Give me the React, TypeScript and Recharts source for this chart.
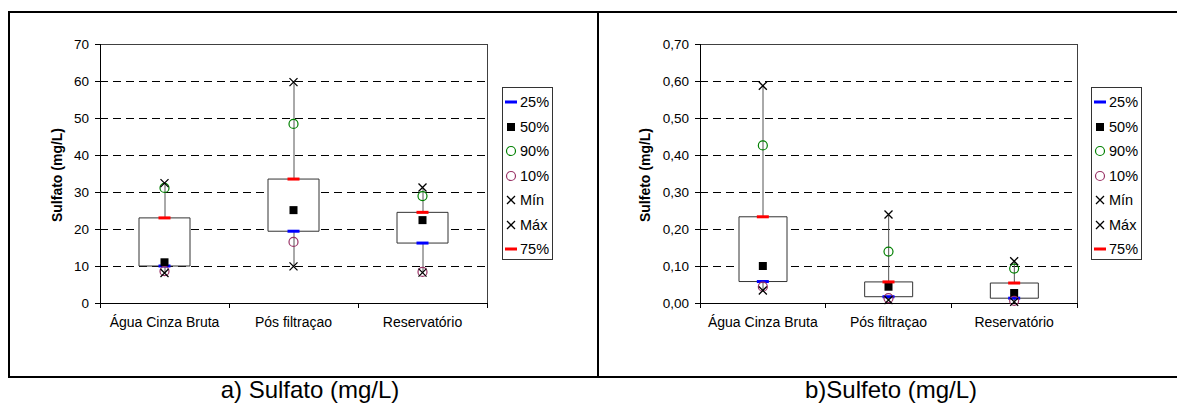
import React from "react";
import { Bar, CartesianGrid, ComposedChart, Line, ReferenceArea, XAxis, YAxis } from "recharts";

const categories = ["Água Cinza Bruta", "Pós filtraçao", "Reservatório"];

// a) Sulfato (mg/L)
const sulfatoP25 = [10, 19.4, 16.2];
const sulfatoP50 = [11, 25.1, 22.4];
const sulfatoP75 = [23, 33.5, 24.5];
const sulfatoP90 = [31.1, 48.4, 28.9];
const sulfatoP10 = [8.6, 16.5, 8.4];
const sulfatoMin = [8.1, 9.9, 8.2];
const sulfatoMax = [32.4, 59.7, 31.2];
const sulfatoTicks = [0, 10, 20, 30, 40, 50, 60, 70];

// b) Sulfeto (mg/L)
const sulfetoP25 = [0.058, 0.017, 0.013];
const sulfetoP50 = [0.1, 0.044, 0.027];
const sulfetoP75 = [0.233, 0.057, 0.054];
const sulfetoP90 = [0.426, 0.139, 0.093];
const sulfetoP10 = [0.044, 0.013, 0.006];
const sulfetoMin = [0.034, 0.008, 0.003];
const sulfetoMax = [0.587, 0.239, 0.113];
const sulfetoTicks = [0, 0.1, 0.2, 0.3, 0.4, 0.5, 0.6, 0.7];

const legendLabels = ["25%", "50%", "90%", "10%", "Mín", "Máx", "75%"];

const FONT = '"Liberation Sans", Arial, sans-serif';

type Stats = {
  p25: number[];
  p50: number[];
  p75: number[];
  p90: number[];
  p10: number[];
  min: number[];
  max: number[];
};

function buildRows(s: Stats) {
  return categories.map((name, i) => ({
    name,
    pos: i + 0.5, // centre of the category band on the boundary-tick axis
    whisk: [s.min[i], s.max[i]],
    box: [s.p25[i], s.p75[i]],
    p25: s.p25[i],
    p50: s.p50[i],
    p75: s.p75[i],
    p90: s.p90[i],
    p10: s.p10[i],
    min: s.min[i],
    max: s.max[i],
  }));
}

// marker shapes, drawn around (0,0)
function Symbol({ kind }: { kind: string }) {
  switch (kind) {
    case "25%":
      return <rect x={-6} y={-1.5} width={12} height={3} fill="#0000ff" />;
    case "75%":
      return <rect x={-6} y={-1.5} width={12} height={3} fill="#ff0000" />;
    case "50%":
      return <rect x={-4} y={-4} width={8} height={8} fill="#000" />;
    case "90%":
      return <circle r={4.5} fill="none" stroke="#008000" strokeWidth={1.2} />;
    case "10%":
      return <circle r={4.5} fill="none" stroke="#993366" strokeWidth={1.2} />;
    default:
      return <path d="M-4,-4L4,4M-4,4L4,-4" stroke="#000" strokeWidth={1.3} />;
  }
}

const dotFor = (kind: string) => (p: any) => {
  if (p.cx == null || p.cy == null || isNaN(p.cx) || isNaN(p.cy)) return <g key={p.index} />;
  return (
    <g key={`${kind}-${p.index}`} transform={`translate(${p.cx},${p.cy})`}>
      <Symbol kind={kind} />
    </g>
  );
};

const WhiskerShape = (p: any) => {
  const cx = p.x + p.width / 2;
  return <line x1={cx} x2={cx} y1={p.y} y2={p.y + p.height} stroke="#555" strokeWidth={1} />;
};

const markerKeys: [string, string][] = [
  ["p25", "25%"],
  ["p50", "50%"],
  ["p90", "90%"],
  ["p10", "10%"],
  ["min", "Mín"],
  ["max", "Máx"],
  ["p75", "75%"],
];

function Legend({ left }: { left: number }) {
  return (
    <div
      style={{
        position: "absolute",
        left,
        top: 87,
        width: 51,
        height: 173,
        border: "1px solid #333",
        background: "#fff",
        boxSizing: "border-box",
      }}
    >
      {legendLabels.map((lab, i) => (
        <div
          key={lab}
          style={{
            position: "absolute",
            left: 0,
            top: 14 + i * 24.5 - 9,
            height: 18,
            display: "flex",
            alignItems: "center",
            fontFamily: FONT,
            fontSize: 14.5,
            color: "#000",
          }}
        >
          <svg width={16} height={18}>
            <g transform="translate(8,9)">
              <Symbol kind={lab} />
            </g>
          </svg>
          <span style={{ marginLeft: 1 }}>{lab}</span>
        </div>
      ))}
    </div>
  );
}

type PanelProps = {
  stats: Stats;
  ticks: number[];
  fmt: (v: number) => string;
  chartLeft: number;
  chartWidth: number;
  marginLeft: number;
  marginRight: number;
  boxSize: number;
};

function BoxChart({ stats, ticks, fmt, chartLeft, chartWidth, marginLeft, marginRight, boxSize }: PanelProps) {
  const rows = buildRows(stats);
  const top = ticks[ticks.length - 1];
  return (
    <div style={{ position: "absolute", left: chartLeft, top: 0 }}>
      <ComposedChart
        width={chartWidth}
        height={340}
        data={rows}
        margin={{ top: 44, right: marginRight, bottom: 7, left: marginLeft }}
        style={{ fontFamily: FONT }}
      >
        <CartesianGrid
          xAxisId="cat"
          yAxisId="l"
          vertical={false}
          stroke="#000"
          strokeDasharray="8 5"
        />
        {/* plot frame (top and right edges) */}
        <ReferenceArea
          xAxisId="cat"
          yAxisId="l"
          y1={0}
          y2={top}
          fill="none"
          stroke="#404040"
          strokeWidth={1}
          ifOverflow="visible"
        />
        <XAxis
          xAxisId="bnd"
          type="number"
          dataKey="pos"
          domain={[0, 3]}
          ticks={[0, 1, 2, 3]}
          interval={0}
          allowDataOverflow
          height={5}
          tickSize={5}
          tickFormatter={() => ""}
          axisLine={{ stroke: "#000" }}
          tickLine={{ stroke: "#000" }}
        />
        <XAxis
          xAxisId="cat"
          dataKey="name"
          height={25}
          interval={0}
          axisLine={false}
          tickLine={false}
          tickSize={0}
          tickMargin={9}
          tick={{ fontSize: 14, fill: "#000", fontFamily: FONT }}
        />
        <XAxis xAxisId="cat2" dataKey="name" hide />
        <YAxis
          yAxisId="l"
          domain={[0, top]}
          ticks={ticks}
          interval={0}
          width={40}
          tickSize={5}
          tickMargin={6}
          tickFormatter={fmt}
          axisLine={{ stroke: "#000" }}
          tickLine={{ stroke: "#000" }}
          tick={{ fontSize: 13.5, fill: "#000", fontFamily: FONT }}
        />
        {/* invisible series so the boundary-tick axis gets drawn */}
        <Line xAxisId="bnd" yAxisId="l" dataKey="p50" stroke="none" dot={false} activeDot={false} isAnimationActive={false} />
        <Bar
          xAxisId="cat2"
          yAxisId="l"
          dataKey="whisk"
          barSize={2}
          shape={WhiskerShape}
          isAnimationActive={false}
        />
        <Bar
          xAxisId="cat"
          yAxisId="l"
          dataKey="box"
          barSize={boxSize}
          fill="#fff"
          stroke="#333"
          strokeWidth={1}
          isAnimationActive={false}
        />
        {markerKeys.map(([key, kind]) => (
          <Line
            key={key}
            xAxisId="cat"
            yAxisId="l"
            dataKey={key}
            stroke="none"
            strokeWidth={0}
            dot={dotFor(kind)}
            activeDot={false}
            isAnimationActive={false}
          />
        ))}
      </ComposedChart>
    </div>
  );
}

function AxisTitle({ text, x }: { text: string; x: number }) {
  return (
    <div
      style={{
        position: "absolute",
        left: x - 80,
        top: 175 - 10,
        width: 160,
        height: 20,
        lineHeight: "20px",
        textAlign: "center",
        transform: "rotate(-90deg)",
        fontFamily: FONT,
        fontWeight: "bold",
        fontSize: 14,
        color: "#000",
      }}
    >
      {text}
    </div>
  );
}

function Caption({ text, cx }: { text: string; cx: number }) {
  return (
    <div
      style={{
        position: "absolute",
        left: cx - 150,
        top: 378,
        width: 300,
        lineHeight: "24px",
        textAlign: "center",
        fontFamily: FONT,
        fontSize: 24,
        color: "#000",
        whiteSpace: "nowrap",
      }}
    >
      {text}
    </div>
  );
}

const line = (l: number, t: number, w: number, h: number) => (
  <div style={{ position: "absolute", left: l, top: t, width: w, height: h, background: "#000" }} />
);

export default function App() {
  const comma2 = (v: number) => v.toFixed(2).replace(".", ",");
  return (
    <div
      style={{
        position: "absolute",
        left: 0,
        top: 0,
        width: 1177,
        height: 404,
        overflow: "hidden",
        background: "#fff",
      }}
    >
      <style>{".recharts-cartesian-grid line, .recharts-cartesian-axis line, .recharts-reference-area path { shape-rendering: crispEdges; }"}</style>
      {line(8, 11, 1169, 2)}
      {line(8, 376, 1169, 2)}
      {line(8, 11, 2, 367)}
      {line(597, 11, 2, 367)}

      <BoxChart
        stats={{
          p25: sulfatoP25,
          p50: sulfatoP50,
          p75: sulfatoP75,
          p90: sulfatoP90,
          p10: sulfatoP10,
          min: sulfatoMin,
          max: sulfatoMax,
        }}
        ticks={sulfatoTicks}
        fmt={(v) => String(v)}
        chartLeft={0}
        chartWidth={597}
        marginLeft={60}
        marginRight={110}
        boxSize={51}
      />
      <AxisTitle text="Sulfato (mg/L)" x={57} />
      <Legend left={502} />
      <Caption text="a) Sulfato (mg/L)" cx={310} />

      <BoxChart
        stats={{
          p25: sulfetoP25,
          p50: sulfetoP50,
          p75: sulfetoP75,
          p90: sulfetoP90,
          p10: sulfetoP10,
          min: sulfetoMin,
          max: sulfetoMax,
        }}
        ticks={sulfetoTicks}
        fmt={comma2}
        chartLeft={599}
        chartWidth={578}
        marginLeft={61}
        marginRight={100}
        boxSize={48}
      />
      <AxisTitle text="Sulfeto (mg/L)" x={645} />
      <Legend left={1091} />
      <Caption text="b)Sulfeto (mg/L)" cx={891} />
    </div>
  );
}
